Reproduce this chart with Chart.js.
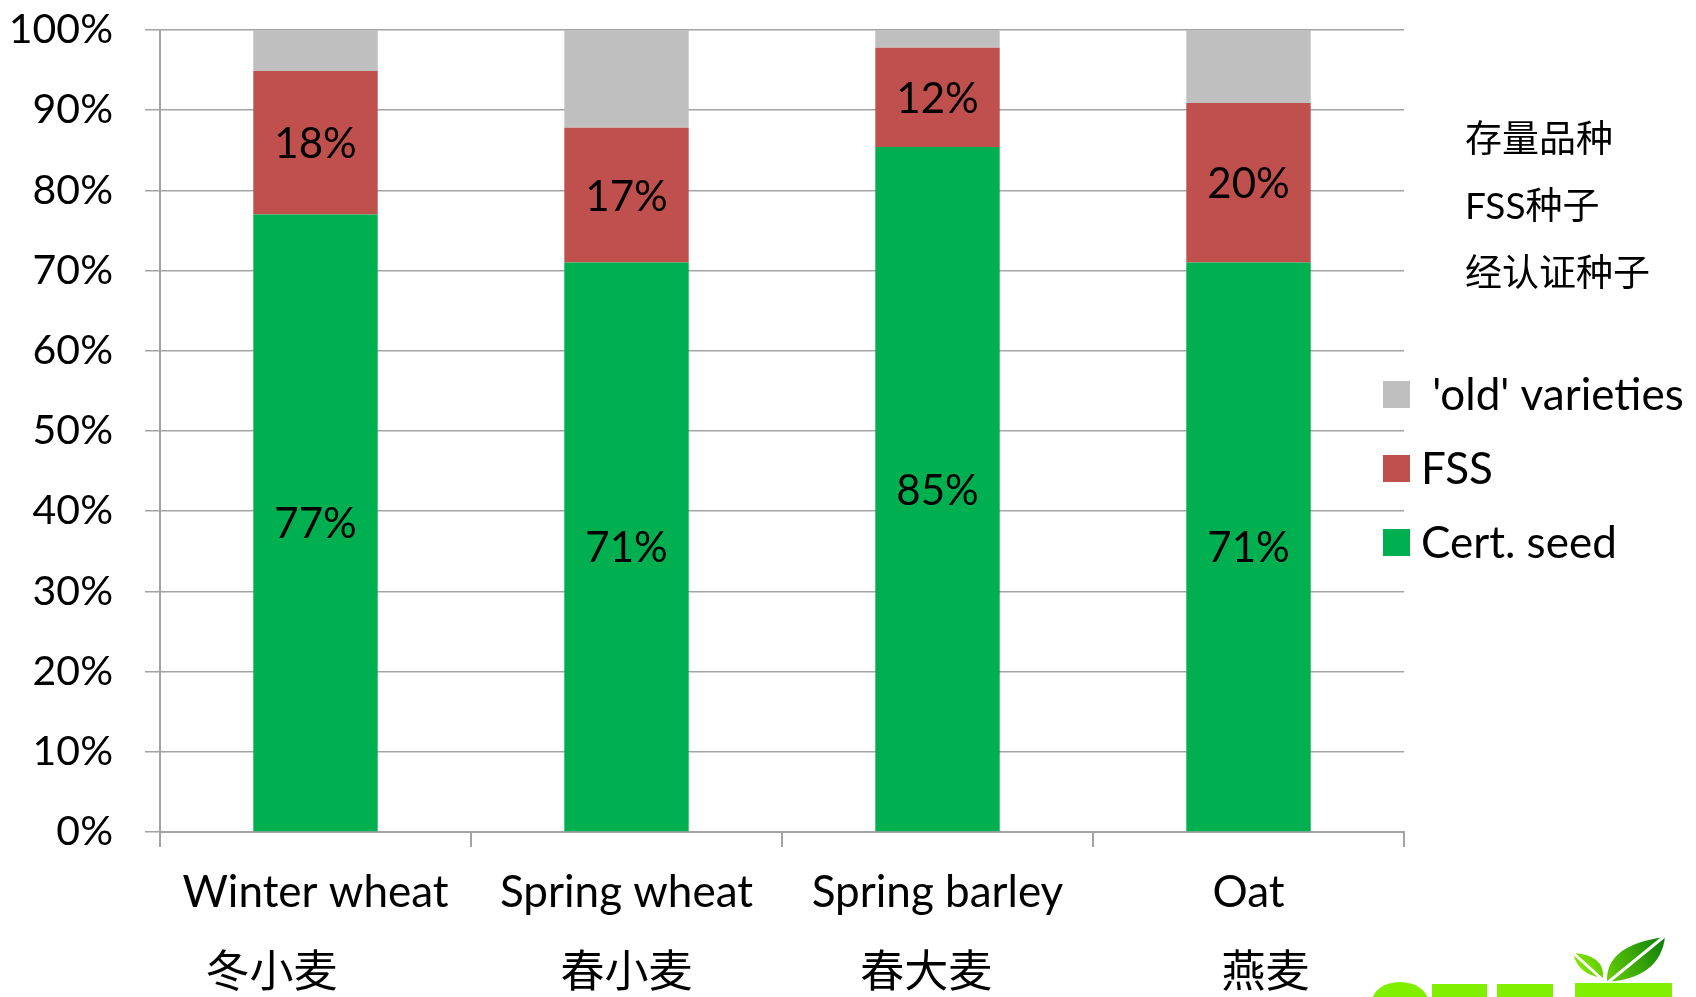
<!DOCTYPE html>
<html>
<head>
<meta charset="utf-8">
<title>Seed use by crop</title>
<script src="https://cdn.jsdelivr.net/npm/chart.js@4.4.1/dist/chart.umd.min.js"></script>
<style>
    html, body { margin: 0; padding: 0; background: #fff; }
    #wrap { width: 1696px; height: 997px; position: relative; }
</style>
</head>
<body>
<div id="wrap"><canvas id="seedChart"></canvas></div>
<script>
// data (percent of area)
// (trailing / leading blanks only nudge the Chinese line like in the original slide)
const crops = [
    ["Winter wheat", "冬小麦\u3000\u3000"],
    ["Spring wheat", "春小麦"],
    ["Spring barley", "春大麦  "],
    ["Oat", "   燕麦"]
];
const certSeed = [77.0, 71.0, 85.4, 71.0];
const fssSeed = [17.9, 16.8, 12.4, 19.9];
const oldVarieties = [5.1, 12.2, 2.2, 9.1];

const seriesNames = ["Cert. seed", "FSS", " 'old' varieties"];
const seriesColors = ["#00B050", "#C0504D", "#BFBFBF"];
const legendNotes = ["存量品种", "FSS种子", "经认证种子"];

const FONT = 'Lato, "Noto Sans CJK SC", sans-serif';
const GRID = "#a3a3a3";

// 数值标签：只给绿色和红色段
const segmentLabelPlugin = {
    id: "segmentLabelPlugin",
    afterDatasetsDraw(chart) {
        const ctx = chart.ctx;
        ctx.save();
        ctx.font = "42px " + FONT;
        ctx.fillStyle = "#000";
        ctx.textAlign = "center";
        ctx.textBaseline = "middle";
        [0, 1].forEach((di) => {
            const meta = chart.getDatasetMeta(di);
            meta.data.forEach((bar, i) => {
                const v = chart.data.datasets[di].data[i];
                ctx.fillText(Math.round(v) + "%", bar.x, (bar.y + bar.base) / 2 + 2);
            });
        });
        ctx.restore();
    }
};

// 右侧图例（倒序）+ 中文说明
const sideLegendPlugin = {
    id: "sideLegendPlugin",
    afterDraw(chart) {
        const ctx = chart.ctx;
        ctx.save();
        ctx.textBaseline = "middle";
        ctx.textAlign = "left";
        ctx.fillStyle = "#000";
        ctx.font = "37px " + FONT;
        legendNotes.forEach((t, i) => {
            ctx.fillText(t, 1465, 140 + i * 67);
        });

        ctx.font = "44px " + FONT;
        const sets = chart.data.datasets.slice().reverse();
        sets.forEach((ds, i) => {
            const y = 381 + i * 74;
            ctx.fillStyle = ds.backgroundColor;
            ctx.fillRect(1383, y, 27, 27);
            ctx.fillStyle = "#000";
            ctx.fillText(ds.label, 1421, y + 15);
        });
        ctx.restore();
    }
};

// 右下角被裁掉的 logo
const logoPlugin = {
    id: "logoPlugin",
    afterDraw(chart) {
        const ctx = chart.ctx;
        ctx.save();
        const g = ctx.createLinearGradient(1575, 980, 1665, 937);
        g.addColorStop(0, "#8CF000");
        g.addColorStop(1, "#0A7D0A");
        ctx.fillStyle = g;
        // big leaf
        ctx.beginPath();
        ctx.moveTo(1607, 982);
        ctx.quadraticCurveTo(1605, 945, 1665, 937);
        ctx.quadraticCurveTo(1660, 978, 1607, 982);
        ctx.fill();
        // small leaf
        ctx.beginPath();
        ctx.moveTo(1603, 978);
        ctx.quadraticCurveTo(1605, 955, 1573, 953);
        ctx.quadraticCurveTo(1578, 975, 1603, 978);
        ctx.fill();
        // white slashes
        ctx.strokeStyle = "#fff";
        ctx.lineWidth = 3;
        ctx.beginPath();
        ctx.moveTo(1606, 984);
        ctx.lineTo(1666, 935);
        ctx.moveTo(1603, 980);
        ctx.lineTo(1572, 952);
        ctx.stroke();
        // lime letters (top part only)
        ctx.fillStyle = "#80F000";
        ctx.beginPath();
        ctx.ellipse(1400, 1002, 28, 20, 0, Math.PI, 2 * Math.PI);
        ctx.fill();
        ctx.fillRect(1432, 984, 55, 13);
        ctx.fillRect(1497, 984, 56, 13);
        ctx.fillRect(1575, 983, 97, 14);
        ctx.restore();
    }
};

const ctx = document.getElementById("seedChart").getContext("2d");
new Chart(ctx, {
    type: "bar",
    data: {
        labels: crops,
        datasets: [
            { label: seriesNames[0], data: certSeed, backgroundColor: seriesColors[0] },
            { label: seriesNames[1], data: fssSeed, backgroundColor: seriesColors[1] },
            { label: seriesNames[2], data: oldVarieties, backgroundColor: seriesColors[2] }
        ]
    },
    options: {
        responsive: true,
        maintainAspectRatio: false,
        animation: false,
        datasets: {
            bar: { barPercentage: 0.4, categoryPercentage: 1.0, borderWidth: 0 }
        },
        layout: { padding: { left: 0, right: 292, top: 30, bottom: 0 } },
        scales: {
            x: {
                stacked: true,
                ticks: {
                    font: { family: FONT, size: 44, lineHeight: 1.82 },
                    color: "#000",
                    padding: 6,
                    maxRotation: 0,
                    autoSkip: false
                },
                grid: { drawOnChartArea: false, tickLength: 15, color: GRID, lineWidth: 2, offset: true },
                border: { color: GRID, width: 2 },
                afterFit: (s) => { s.height = 165; }
            },
            y: {
                stacked: true,
                min: 0,
                max: 100,
                ticks: {
                    stepSize: 10,
                    callback: (v) => v + "%",
                    font: { family: FONT, size: 41 },
                    color: "#000",
                    padding: 32
                },
                grid: { color: GRID, lineWidth: 1.5, tickLength: 15 },
                border: { color: GRID, width: 2 },
                afterFit: (s) => {
                    s.width = 160;
                    s.paddingTop = 0;
                    s.paddingBottom = 0;
                }
            }
        },
        plugins: {
            legend: { display: false },
            tooltip: { enabled: false }
        }
    },
    plugins: [segmentLabelPlugin, sideLegendPlugin, logoPlugin]
});
</script>
</body>
</html>
